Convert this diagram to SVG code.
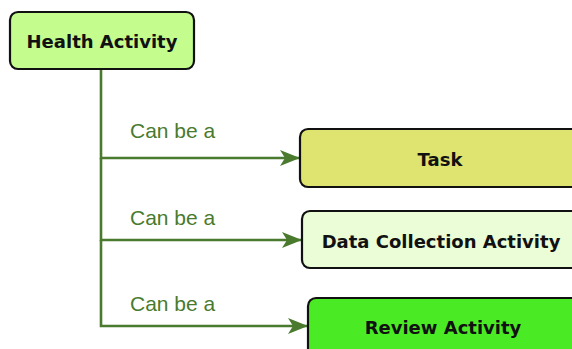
<svg xmlns="http://www.w3.org/2000/svg" width="572" height="349" viewBox="0 0 572 349">
<style>
.node rect{stroke:#111;stroke-width:2.2}
.node text{font-family:"DejaVu Sans",Verdana,sans-serif;font-weight:bold;font-size:18px;fill:#111;text-anchor:middle}
.conn path{fill:none;stroke:#4a7a2e;stroke-width:2.6}
.lbl{font-family:"Liberation Sans",Arial,sans-serif;font-size:21px;fill:#4a7a2e}
</style>
<defs>
<marker id="ah" markerWidth="22" markerHeight="18" refX="20" refY="9" markerUnits="userSpaceOnUse" orient="auto">
<path d="M0,1 L20,9 L0,17 L5,9 Z" fill="#4a7a2e"/>
</marker>
</defs>
<rect width="572" height="349" fill="#fff"/>
<g class="conn">
<path d="M101,69 V158 H300" marker-end="url(#ah)"/>
<path d="M101,158 V240 H302" marker-end="url(#ah)"/>
<path d="M101,240 V326 H308" marker-end="url(#ah)"/>
<text class="lbl" x="130" y="138">Can be a</text>
<text class="lbl" x="130" y="225">Can be a</text>
<text class="lbl" x="130" y="311">Can be a</text>
</g>
<g id="health" class="node">
<rect x="10" y="12" width="184" height="57" rx="8" fill="#c4fc8e"/>
<text x="102" y="48">Health Activity</text>
</g>
<g id="task" class="node">
<rect x="300" y="129" width="280" height="58" rx="8" fill="#dfe36f"/>
<text x="440" y="166">Task</text>
</g>
<g id="data" class="node">
<rect x="302" y="211" width="278" height="57" rx="8" fill="#ebfdd6"/>
<text x="441" y="248">Data Collection Activity</text>
</g>
<g id="review" class="node">
<rect x="308" y="298" width="272" height="60" rx="8" fill="#4aeb24"/>
<text x="443" y="334">Review Activity</text>
</g>
</svg>
